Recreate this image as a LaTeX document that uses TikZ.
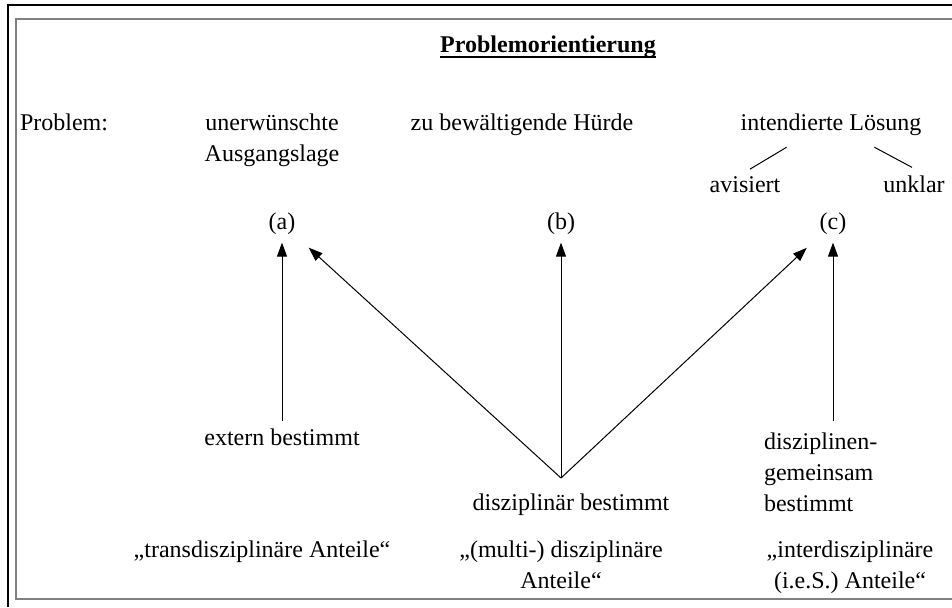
\documentclass[tikz,border=0pt]{standalone}
\usepackage{fontspec}
\setmainfont{Liberation Serif}
\usetikzlibrary{positioning,arrows.meta,calc}
\definecolor{rahmengrau}{HTML}{808080}

\begin{document}
\begin{tikzpicture}[x=0.5pt,y=-0.5pt,
      txt/.style={inner sep=0pt,outer sep=0pt,anchor=base,align=center,font=\fontsize{12}{15.5}\selectfont},
      pfeil/.style={-{Triangle[length=7pt,width=5pt]},line width=0.5pt},
      ast/.style={line width=0.5pt}]
    \useasboundingbox (0,0) rectangle (952,607);
    % Rahmen
    \draw[line width=0.6pt] (8,607) -- (8,5) -- (952,5);
    \draw[rahmengrau,line width=1pt] (952,19) -- (16,19) -- (16,599) -- (952,599);
    % Titel
    \node[txt,font=\fontsize{12}{15.5}\selectfont\bfseries] (titel) at (548,52) {Problemorientierung};
    \draw[line width=1pt] ($(titel.base west)+(0,5)$) -- ($(titel.base east)+(0,5)$);
    % Problem (mehrzeilige Knoten: base = letzte Zeile)
    \node[txt,anchor=base west] (problem) at (20,130) {Problem:};
    \node[txt] (ausgang) at (272,161) {unerwünschte\\Ausgangslage};
    \node[txt] (huerde) at (522,130) {zu bewältigende Hürde};
    \node[txt] (loesung) at (831,130) {intendierte Lösung};
    \node[txt] (avis) at (745,192) {avisiert};
    \node[txt] (unkl) at (914,192) {unklar};
    \draw[ast] ($(loesung.south west)+(46,12)$) -- ($(avis.north)+(5,-7)$);
    \draw[ast] ($(loesung.south east)+(-47,12)$) -- ($(unkl.north)+(-2,-8)$);
    \node[txt] (a) at (282,229) {(a)};
    \node[txt] (b) at (561,229) {(b)};
    \node[txt] (c) at (833,229) {(c)};
    % Bestimmung
    \node[txt] (ext) at (282,445) {extern bestimmt};
    \node[txt,anchor=base west,align=left] (gem) at (764,511) {disziplinen-\\gemeinsam\\bestimmt};
    \node[txt] (diszb) at (571,510) {disziplinär bestimmt};
    \coordinate (spitze) at (561,478);
    \draw[pfeil,shorten <=3.5pt,shorten >=4.25pt] (ext) -- (a);
    \draw[pfeil,shorten <=5.5pt,shorten >=4.25pt] (gem.north -| c) -- (c);
    \draw[pfeil,shorten >=4.25pt] (spitze) -- (b);
    \draw[pfeil,shorten >=10pt] (spitze) -- (a);
    \draw[pfeil,shorten >=10pt] (spitze) -- (c);
    % Anteile
    \node[txt] (trans) at (262,557) {„transdisziplinäre Anteile“};
    \node[txt] (multi) at (561,588) {„(multi-) disziplinäre\\Anteile“};
    \node[txt] (inter) at (850,588) {„interdisziplinäre\\(i.e.S.) Anteile“};
  \end{tikzpicture}
\end{document}
